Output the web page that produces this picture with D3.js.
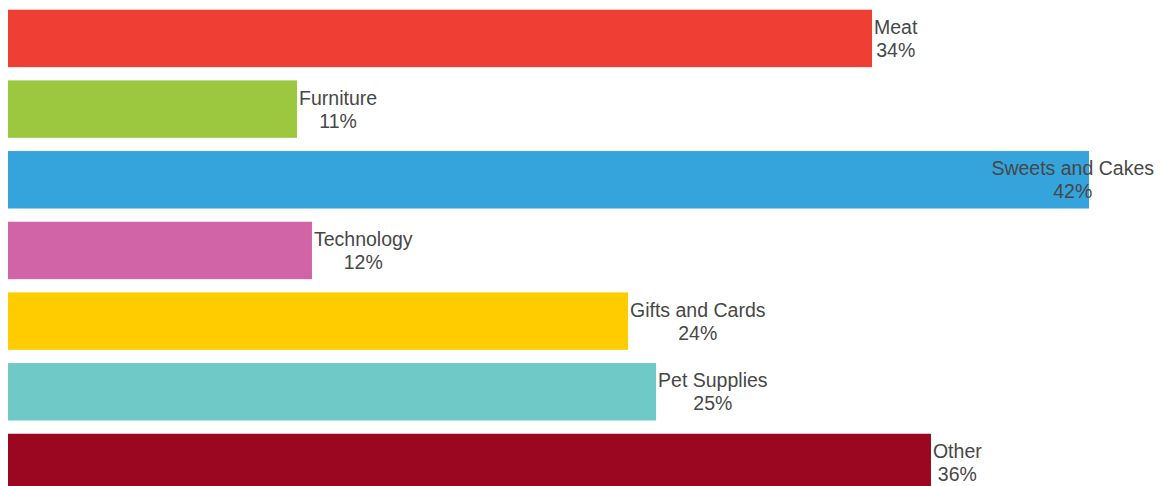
<!DOCTYPE html>
<html>
<head>
<meta charset="utf-8">
<script src="https://cdn.jsdelivr.net/npm/d3@7"></script>
<style>
  html, body { margin: 0; padding: 0; background: #ffffff; overflow: hidden; }
  svg { display: block; }
</style>
</head>
<body>
<svg id="chart" width="1162" height="486"></svg>
<script>
const categories = ["Meat", "Furniture", "Sweets and Cakes", "Technology", "Gifts and Cards", "Pet Supplies", "Other"];
const values = [33.57, 11.23, 42.0, 11.81, 24.09, 25.18, 35.86];
const colors = ["#ef3e33", "#9bc83f", "#35a3dc", "#d064a7", "#ffcc00", "#6fc9c6", "#9b0621"];

const W = 1162, H = 486;
const svg = d3.select("#chart");

const x = d3.scaleLinear().domain([0, d3.max(values)]).range([8, 1089]);
const y = d3.scaleBand().domain(categories).range([9.7, 491.2]).paddingInner(0.187).paddingOuter(0);

const data = categories.map((c, i) => ({ name: c, value: values[i], color: colors[i] }));

svg.selectAll("rect.bar").data(data).join("rect")
  .attr("class", "bar")
  .attr("x", x(0))
  .attr("y", d => y(d.name))
  .attr("width", d => x(d.value) - x(0))
  .attr("height", y.bandwidth())
  .attr("fill", d => d.color);

const fontSize = 19.5;
const font = "'Liberation Sans', Arial, sans-serif";
const labels = svg.selectAll("g.label").data(data).join("g").attr("class", "label");

labels.each(function(d) {
  const g = d3.select(this);
  const cy = y(d.name) + y.bandwidth() / 2;
  const t1 = g.append("text").text(d.name)
    .style("font-family", font)
    .style("font-size", fontSize + "px").attr("fill", "#474747")
    .attr("text-anchor", "middle");
  const t2 = g.append("text").text(Math.round(d.value) + "%")
    .style("font-family", font)
    .style("font-size", fontSize + "px").attr("fill", "#474747")
    .attr("text-anchor", "middle");
  const w = Math.max(t1.node().getComputedTextLength(), t2.node().getComputedTextLength());
  let left = x(d.value) + 2;
  if (left + w > 1154) left = 1154 - w;
  const cx = left + w / 2;
  t1.attr("x", cx).attr("y", cy - 4.5);
  t2.attr("x", cx).attr("y", cy + 18.5);
});
</script>
</body>
</html>
